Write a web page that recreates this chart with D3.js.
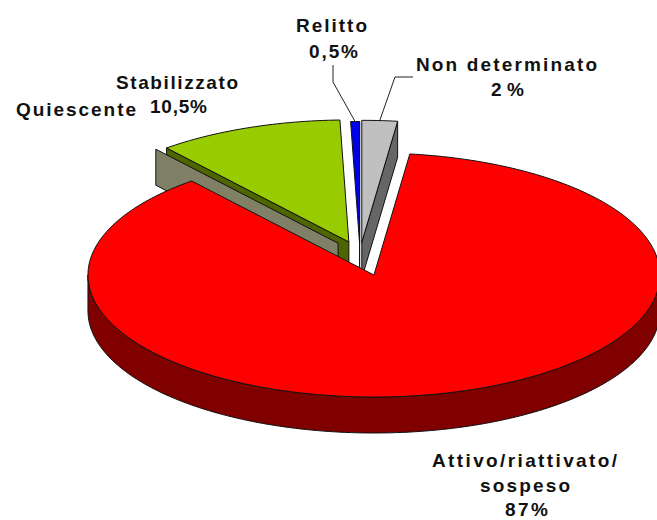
<!DOCTYPE html>
<html><head><meta charset="utf-8">
<style>html,body{margin:0;padding:0;background:#fff;overflow:hidden}svg{display:block}
text{font-family:"Liberation Sans",Arial,sans-serif;font-weight:bold;font-size:19px;fill:#111}</style>
<script src="https://cdn.jsdelivr.net/npm/d3@7"></script></head><body>
<script>
const categories = ["Attivo/riattivato/sospeso","Quiescente","Stabilizzato","Relitto","Non determinato"];
const values = [87, 0, 10.5, 0.5, 2];
const explode = [0.175, 0.12, 0.11, 0.09, 0.1];
const topColors = ["#ff0000","#808066","#99cc00","#0000e6","#c0c0c0"];
const wallColors = ["#800000","#808066","#4d6600","#000000","#666666"];

const W=657,H=520,cx=360,cy=254.5,rx=286,ry=122,depth=36;
const svg=d3.select("body").append("svg").attr("width",W).attr("height",H);
const toX=d3.scaleLinear().domain([-1,1]).range([cx-rx,cx+rx]);
const toY=d3.scaleLinear().domain([-1,1]).range([cy-ry,cy+ry]);
const startDeg=7.2;
const pie=d3.pie().sort(null).value(d=>d).startAngle(startDeg*Math.PI/180).endAngle(startDeg*Math.PI/180+2*Math.PI);
const arcs=pie(values).map((a,i)=>{
  const m=(a.startAngle+a.endAngle)/2, e=explode[i];
  return {i,a0:a.startAngle,a1:a.endAngle,ox:e*Math.sin(m),oy:-e*Math.cos(m)};
});
const P=(s,ang,r=1,dz=0)=>[toX(s.ox+r*Math.sin(ang)),toY(s.oy-r*Math.cos(ang))+dz];
const line=d3.line();
const rim=(s,a0,a1,dz=0)=>{const n=Math.max(2,Math.ceil(Math.abs(a1-a0)/0.02));
  return d3.range(n+1).map(k=>P(s,a0+(a1-a0)*k/n,1,dz));};
const closed=pts=>line(pts)+"Z";
const draw=(pts,fill)=>svg.append("path").attr("d",closed(pts)).attr("fill",fill).attr("stroke","#111").attr("stroke-width",1).attr("stroke-linejoin","round");
const radialWall=(s,ang)=>[P(s,ang,0),P(s,ang,1),P(s,ang,1,depth),P(s,ang,0,depth)];
const face=s=>[P(s,0,0),...rim(s,s.a0,s.a1)];

// back to front
const [red,qui,sta,rel,non]=arcs;
draw(radialWall(non,non.a1),wallColors[4]);
draw(face(non),topColors[4]);
draw(radialWall(rel,rel.a1),wallColors[3]);
draw(face(rel),topColors[3]);
draw(radialWall(sta,sta.a0),wallColors[2]);
draw(face(sta),topColors[2]);
draw(radialWall(qui,qui.a0),wallColors[1]);
// red outer wall: lower half of the rim
const wa0=Math.PI/2, wa1=3*Math.PI/2;
draw([...rim(red,wa0,wa1),...rim(red,wa1,wa0,depth)],wallColors[0]);
draw(face(red),topColors[0]);

// leader lines
const leader=(pts)=>svg.append("path").attr("d",line(pts)).attr("fill","none").attr("stroke","#222").attr("stroke-width",1);
const midOuter=s=>P(s,(s.a0+s.a1)/2);
leader([[333,65],[333,82],midOuter(rel)]);
leader([[413,77],[395,77],midOuter(non)]);

// labels
const label=(t,x0,x1,y)=>svg.append("text").attr("x",x0).attr("y",y).attr("textLength",x1-x0).attr("lengthAdjust","spacing").text(t);
label("Relitto",296,367,32);
label("0,5%",309,358,58);
label("Non determinato",416,597,71);
label("2%",491,524,96);
label("Stabilizzato",116,238,89);
label("10,5%",150,207,113);
label("Quiescente",16,136,116);
label("Attivo/riattivato/",432,617,467);
label("sospeso",480,570,492);
label("87%",505,548,516);
</script></body></html>
